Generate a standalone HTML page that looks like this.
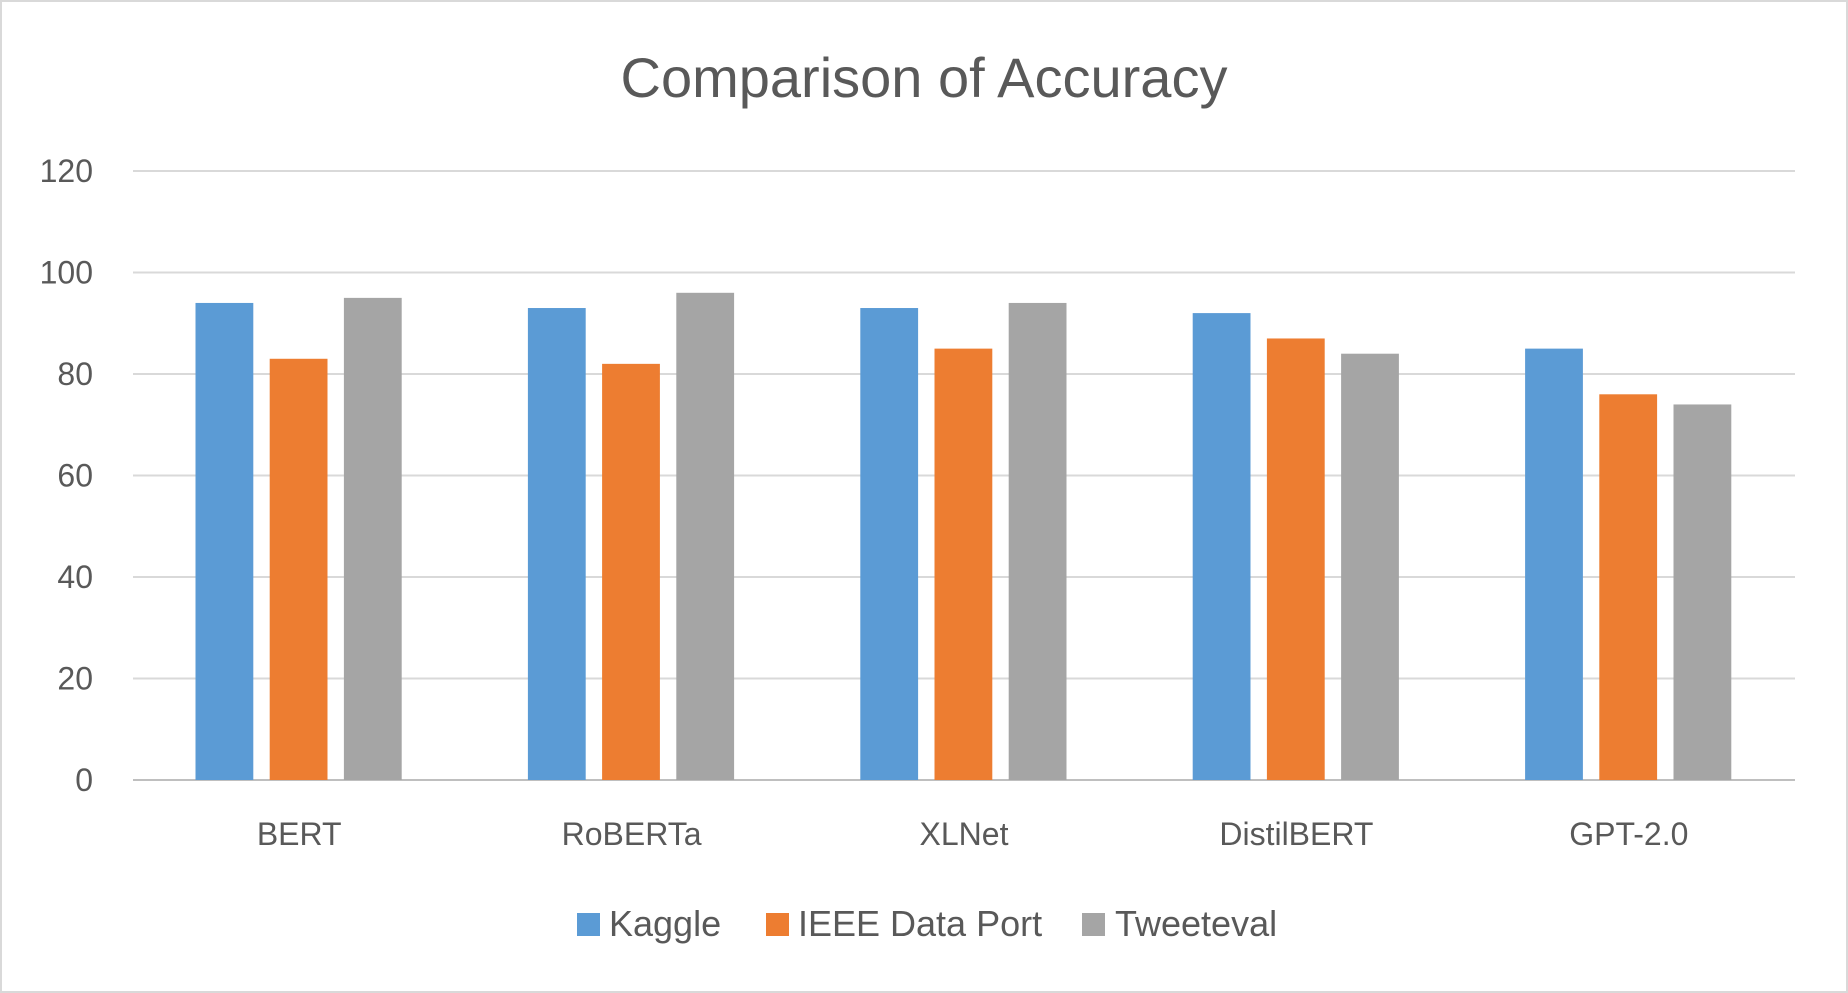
<!DOCTYPE html>
<html><head><meta charset="utf-8"><style>
html,body{margin:0;padding:0;background:#fff;}
svg{display:block;font-family:"Liberation Sans",sans-serif;}
</style></head><body>
<svg id="chart" width="1848" height="993">
<rect x="1" y="1" width="1846" height="991" fill="#fff" stroke="#d9d9d9" stroke-width="2"/>
<text x="924" y="97" text-anchor="middle" font-size="56" fill="#595959">Comparison of Accuracy</text>
<g id="grid"></g><g id="bars"></g><g id="labels"></g>
<g>
<rect x="577" y="913" width="23" height="23" fill="#5b9bd5"/>
<text x="609" y="936" font-size="36" fill="#595959">Kaggle</text>
<rect x="766" y="913" width="23" height="23" fill="#ed7d31"/>
<text x="798" y="936" font-size="36" fill="#595959">IEEE Data Port</text>
<rect x="1082" y="913" width="23" height="23" fill="#a5a5a5"/>
<text x="1115" y="936" font-size="36" fill="#595959">Tweeteval</text>
</g>
</svg>
<script>
const categories=["BERT","RoBERTa","XLNet","DistilBERT","GPT-2.0"];
const kaggle=[94,93,93,92,85];
const ieee=[83,82,85,87,76];
const tweeteval=[95,96,94,84,74];
const ticks=[0,20,40,60,80,100,120];
const ns="http://www.w3.org/2000/svg";
const x0=133,x1=1795,yTop=171,yBot=780,yMax=120;
const y=v=>yBot-(v/yMax)*(yBot-yTop);
const cw=(x1-x0)/categories.length;
const bw=57.8,off=62.5,step=74.2;
function mk(t,a,p){const e=document.createElementNS(ns,t);for(const k in a)e.setAttribute(k,a[k]);p.appendChild(e);return e;}
const g=document.getElementById('grid');
ticks.forEach(t=>{
 const l=mk('line',{x1:x0,x2:x1,y1:y(t),y2:y(t),stroke:t===0?'#bfbfbf':'#d9d9d9','stroke-width':2},g);
 
 
 const tx=mk('text',{x:93,y:y(t)+11,'text-anchor':'end','font-size':32,fill:'#595959'},g);
 tx.textContent=t;
 
 
});
const b=document.getElementById('bars');
const series=[[kaggle,'#5b9bd5','kaggle'],[ieee,'#ed7d31','ieee'],[tweeteval,'#a5a5a5','tweeteval']];
categories.forEach((c,i)=>{
 series.forEach((s,j)=>{
  const v=s[0][i];
  const r=mk('rect',{x:x0+i*cw+off+j*step,y:y(v),width:bw,height:yBot-y(v),fill:s[1]},b);
  
  
 });
 const t=mk('text',{x:x0+i*cw+cw/2,y:845,'text-anchor':'middle','font-size':32,fill:'#595959'},document.getElementById('labels'));
 t.textContent=c;
 
 
});
</script>
</body></html>
